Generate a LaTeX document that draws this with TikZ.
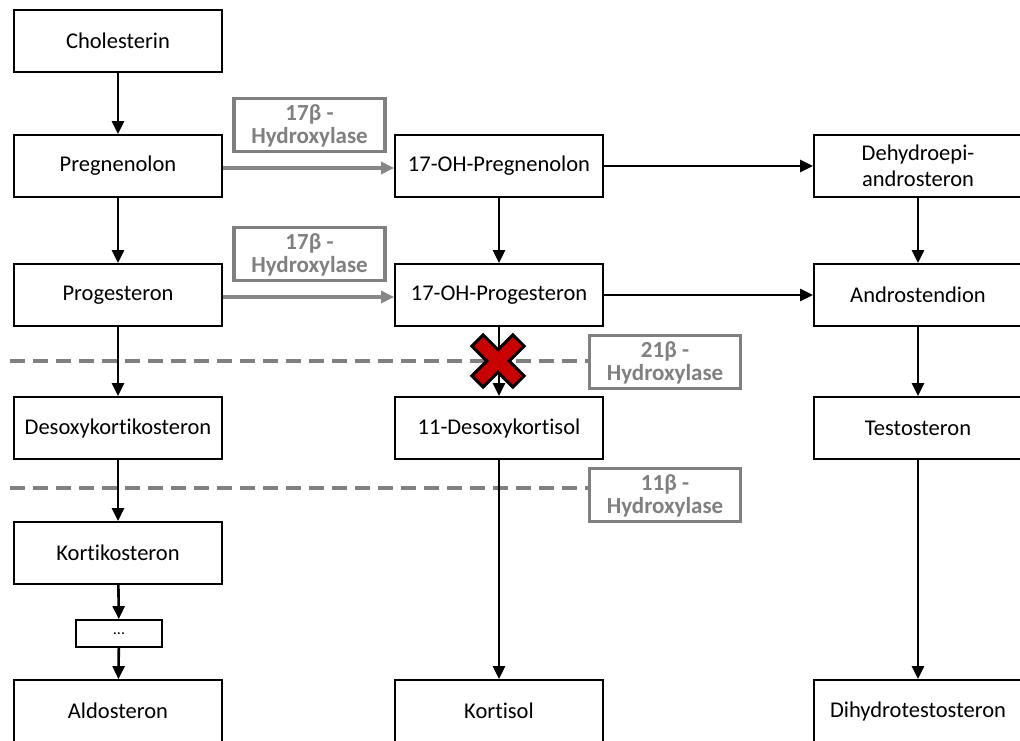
\documentclass[tikz,border=0pt]{standalone}
\usepackage{fontspec}
\setmainfont{Carlito}[Ligatures={NoCommon}]
\usetikzlibrary{arrows.meta}
\definecolor{enzgray}{RGB}{128,128,128}
\definecolor{arrgray}{RGB}{135,135,135}
\definecolor{blockred}{RGB}{200,0,0}
\tikzset{
  stepbox/.style={draw=black, line width=1.8pt, fill=white, minimum width=208pt,
    minimum height=62pt, inner sep=0pt, align=center, font=\fontsize{22.5}{26}\selectfont},
  enzbox/.style={draw=enzgray, line width=3.2pt, fill=white, minimum width=151pt,
    minimum height=53pt, inner sep=0pt,
    label={[enztext]center:{#1}}},
  enztext/.style={align=center, text=enzgray, inner sep=0pt, yshift=-1pt,
    font=\bfseries\fontsize{23}{23}\selectfont},
  flow/.style={line width=2.6pt, -{Triangle[length=13pt,width=12pt]}},
  inhib/.style={line width=3.2pt, arrgray, -{Triangle[length=13pt,width=12pt]}},
  cutline/.style={line width=3.5pt, enzgray, dash pattern=on 15pt off 8pt},
}
\begin{document}
\begin{tikzpicture}[x=1pt,y=-1pt]
\useasboundingbox (0,0) rectangle (1020,740);
\clip (0,0) rectangle (1020,740);

% left column
\node[stepbox] (chol) at (118,41) {Cholesterin};
\node[stepbox] (preg) at (118,166) {Pregnenolon};
\node[stepbox] (prog) at (118,295) {Progesteron};
\node[stepbox] (doc) at (118,428) {Desoxykortikosteron};
\node[stepbox] (cort) at (118,553) {Kortikosteron};
\node[draw=black, line width=1.8pt, fill=white, minimum width=86pt, minimum height=27pt,
  inner sep=0pt, font=\fontsize{16}{18}\selectfont] (dots) at (119,633.5) {...};
\node[stepbox] (aldo) at (118,711) {Aldosteron};

% middle column
\node[stepbox] (ohpreg) at (499,166) {17-OH-Pregnenolon};
\node[stepbox] (ohprog) at (499,295) {17-OH-Progesteron};
\node[stepbox] (deoxy) at (499,428) {11-Desoxykortisol};
\node[stepbox] (kort) at (499,711) {Kortisol};

% right column
\node[stepbox] (dhea) at (918,166) {Dehydroepi-\\androsteron};
\node[stepbox] (andro) at (918,295) {Androstendion};
\node[stepbox] (testo) at (918,428) {Testosteron};
\node[stepbox] (dht) at (918,711) {Dihydrotestosteron};

% enzyme labels
\node[enzbox={17β -\\Hydroxylase}] (enzA) at (309.5,125) {};
\node[enzbox={17β -\\Hydroxylase}] (enzB) at (309.5,254) {};
\node[enzbox={21β -\\Hydroxylase}] (enzC) at (665,362) {};
\node[enzbox={11β -\\Hydroxylase}] (enzD) at (665,495) {};

% blocked-step lines
\coordinate (cutAl) at (10,361);
\coordinate (cutBl) at (10,488);
\draw[cutline] (cutAl) -- (enzC.west |- cutAl);
\draw[cutline] (cutBl) -- (enzD.west |- cutBl);

% vertical pathway arrows
\draw[flow] (chol) -- (preg);
\draw[flow] (preg) -- (prog);
\draw[flow] (prog) -- (doc);
\draw[flow] (doc) -- (cort);
\draw[flow] (cort) -- (dots);
\draw[flow] (dots) -- (aldo);
\draw[flow] (ohpreg) -- (ohprog);
\draw[flow] (ohprog) -- (deoxy);
\draw[flow] (deoxy) -- (kort);
\draw[flow] (dhea) -- (andro);
\draw[flow] (andro) -- (testo);
\draw[flow] (testo) -- (dht);

% horizontal arrows
\draw[inhib] ([yshift=-2pt]preg.east) -- ([yshift=-2pt]ohpreg.west);
\draw[inhib] ([yshift=-2pt]prog.east) -- ([yshift=-2pt]ohprog.west);
\draw[flow] (ohpreg) -- (dhea);
\draw[flow] (ohprog) -- (andro);

% blocked 21-hydroxylation mark
\begin{scope}[shift={(498,361)}, rotate=45]
  \fill[blockred, draw=black, line width=3pt, line join=miter]
    (8,29) -- (8,8) -- (29,8) -- (29,-8) -- (8,-8) -- (8,-29) -- (-8,-29)
    -- (-8,-8) -- (-29,-8) -- (-29,8) -- (-8,8) -- (-8,29) -- cycle;
\end{scope}
\end{tikzpicture}
\end{document}
